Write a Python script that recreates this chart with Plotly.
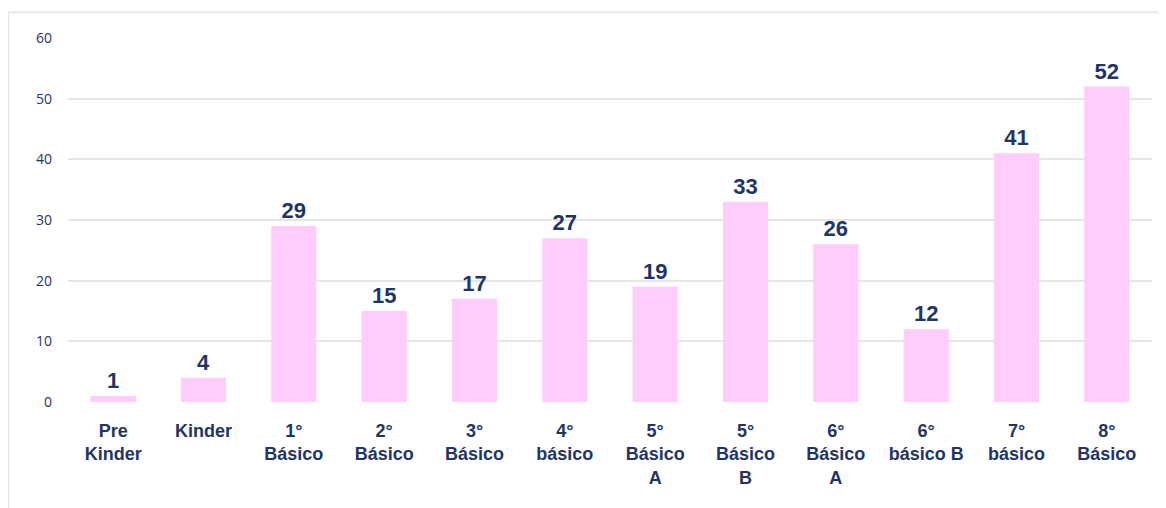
import plotly.graph_objects as go

# categorías y cantidades
cursos = ["Pre<br>Kinder", "Kinder", "1°<br>Básico", "2°<br>Básico", "3°<br>Básico",
          "4°<br>básico", "5°<br>Básico<br>A", "5°<br>Básico<br>B", "6°<br>Básico<br>A",
          "6°<br>básico B", "7°<br>básico", "8°<br>Básico"]
valores = [1, 4, 29, 15, 17, 27, 19, 33, 26, 12, 41, 52]
y_ticks = [0, 10, 20, 30, 40, 50, 60]

navy = "#1F3566"

fig = go.Figure()
fig.add_trace(go.Bar(
    x=cursos,
    y=valores,
    marker=dict(color="#FFCCFB", line=dict(width=0)),
    text=valores,
    textposition="outside",
    textfont=dict(family="Liberation Sans, Arial", size=22, color=navy, weight="bold"),
    cliponaxis=False,
    showlegend=False,
))

fig.update_layout(
    width=1166, height=508,
    plot_bgcolor="white", paper_bgcolor="white",
    margin=dict(l=60, r=22, t=30, b=114),
    bargap=0.5,
    xaxis=dict(
        tickfont=dict(family="Liberation Sans, Arial", size=18, color=navy, weight="bold"),
        showline=False, ticks="", showgrid=False,
        ticklabelstandoff=16,
    ),
    yaxis=dict(
        range=[0, 60], tickvals=y_ticks,
        tickfont=dict(family="Open Sans, DejaVu Sans", size=14, color=navy),
        showgrid=True, gridcolor="#E6E6E6", gridwidth=2,
        zeroline=False, showline=False, ticks="",
        ticklabelstandoff=15,
    ),
    shapes=[dict(type="rect", xref="paper", yref="paper",
                 x0=-0.055, x1=1.2, y0=-0.6, y1=1.071,
                 line=dict(color="#E8E8E8", width=2), layer="below")],
)

fig.write_html("out.html")
